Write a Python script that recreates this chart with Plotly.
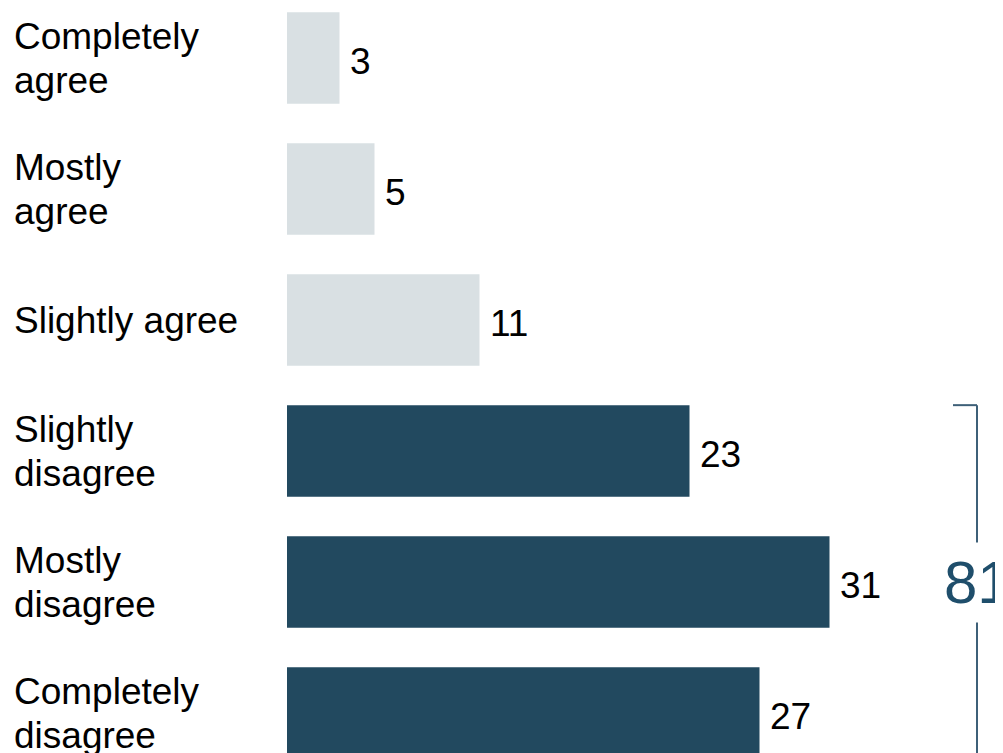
import plotly.graph_objects as go

categories = ["Completely<br>agree", "Mostly<br>agree", "Slightly agree",
              "Slightly<br>disagree", "Mostly<br>disagree", "Completely<br>disagree"]
values = [3, 5, 11, 23, 31, 27]
groups = ["agree", "agree", "agree", "disagree", "disagree", "disagree"]

colors = {"agree": "#d9e0e3", "disagree": "#22495f"}
FONT = "Liberation Sans, Arial, sans-serif"

# the plotly div sits 8px in from the page edge (body margin)
W, H = 995, 745
L = 279
PX_PER_UNIT = 17.5
STEP = 131
C0 = 50

idx = list(range(len(categories)))
fig = go.Figure()
fig.add_trace(go.Bar(
    x=values, y=idx, orientation="h",
    marker=dict(color=[colors[g] for g in groups], line=dict(width=0)),
    width=0.7, hoverinfo="skip",
))

annotations = []
label_x = (15 - 11 - L) / (W - L)
for i, (c, v) in enumerate(zip(categories, values)):
    lines = c.split("<br>")
    n = len(lines)
    for k, ln in enumerate(lines):
        off = (k - (n - 1) / 2) * 44
        annotations.append(dict(
            x=label_x, xref="paper", y=i, yref="y", text=ln, showarrow=False,
            xanchor="left", yanchor="middle", align="left",
            font=dict(size=37, color="#000000", family=FONT), yshift=-off))
    annotations.append(dict(
        x=v, xref="x", y=i, yref="y", text=str(v), showarrow=False,
        xanchor="left", yanchor="middle", xshift=8, yshift=-3,
        font=dict(size=37, color="#000000", family=FONT)))

dis_idx = [i for i, g in enumerate(groups) if g == "disagree"]
total_dis = sum(values[i] for i in dis_idx)
bx = (977 - 8 - L) / PX_PER_UNIT
y_top = dis_idx[0] - 0.35
y_bot = dis_idx[-1] + 0.35
line_col = "#3e6078"
shapes = [
    dict(type="line", xref="x", yref="y", x0=bx - 24 / PX_PER_UNIT, x1=bx, y0=y_top, y1=y_top,
         line=dict(color=line_col, width=2)),
    dict(type="line", xref="x", yref="y", x0=bx, x1=bx, y0=y_top, y1=y_bot,
         line=dict(color=line_col, width=2)),
]
mid = dis_idx[len(dis_idx) // 2]
annotations.append(dict(
    x=bx, xref="x", y=mid, yref="y", text=str(total_dis), showarrow=False,
    xanchor="center", yanchor="middle", bgcolor="white", borderpad=6,
    font=dict(size=60, color="#1f4e6b", family=FONT)))

fig.update_layout(
    width=W, height=H,
    margin=dict(l=L, r=0, t=0, b=0),
    paper_bgcolor="white", plot_bgcolor="white",
    showlegend=False,
    xaxis=dict(range=[0, (W - L) / PX_PER_UNIT], visible=False, fixedrange=True),
    yaxis=dict(range=[(H - C0) / STEP, -C0 / STEP], visible=False, fixedrange=True),
    annotations=annotations, shapes=shapes,
    bargap=0.3,
)

fig.write_html("out.html", config={"displayModeBar": False})
